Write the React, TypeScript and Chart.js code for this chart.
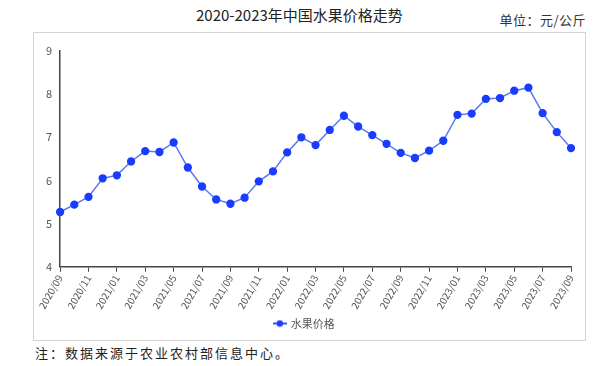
import React, { useEffect, useRef } from "react";
import { Chart, registerables } from "chart.js";

Chart.register(...registerables);

const months: string[] = [
  "2020/09", "2020/10", "2020/11", "2020/12",
  "2021/01", "2021/02", "2021/03", "2021/04", "2021/05", "2021/06", "2021/07", "2021/08", "2021/09", "2021/10", "2021/11", "2021/12",
  "2022/01", "2022/02", "2022/03", "2022/04", "2022/05", "2022/06", "2022/07", "2022/08", "2022/09", "2022/10", "2022/11", "2022/12",
  "2023/01", "2023/02", "2023/03", "2023/04", "2023/05", "2023/06", "2023/07", "2023/08", "2023/09",
];

const fruitPrice: number[] = [
  5.27, 5.44, 5.62, 6.05, 6.12, 6.44, 6.68, 6.66, 6.88, 6.30, 5.86, 5.56, 5.46,
  5.60, 5.98, 6.21, 6.65, 7.00, 6.82, 7.17, 7.50, 7.25, 7.05, 6.85, 6.64,
  6.52, 6.69, 6.92, 7.52, 7.55, 7.89, 7.91, 8.08, 8.15, 7.56, 7.12, 6.75,
];

const seriesName = "水果价格";
const titleText = "2020-2023年中国水果价格走势";
const unitText = "单位：元/公斤";
const noteText = "注：数据来源于农业农村部信息中心。";

const CJK = '"Noto Sans CJK SC", "Noto Sans", sans-serif';

function makeLegendIcon(): HTMLCanvasElement {
  const c = document.createElement("canvas");
  c.width = 14;
  c.height = 8;
  const ctx = c.getContext("2d")!;
  ctx.strokeStyle = "#3355ff";
  ctx.lineWidth = 2;
  ctx.beginPath();
  ctx.moveTo(0, 4);
  ctx.lineTo(4, 4);
  ctx.moveTo(10, 4);
  ctx.lineTo(14, 4);
  ctx.stroke();
  ctx.fillStyle = "#1a3cff";
  ctx.beginPath();
  ctx.arc(7, 4, 3.2, 0, Math.PI * 2);
  ctx.fill();
  return c;
}

export default function App() {
  const ref = useRef<HTMLCanvasElement | null>(null);

  useEffect(() => {
    if (!ref.current) return;
    const icon = makeLegendIcon();
    const chart = new Chart(ref.current, {
      type: "line",
      data: {
        labels: months,
        datasets: [
          {
            label: seriesName,
            data: fruitPrice,
            borderColor: "#5b78f0",
            backgroundColor: "#1a3cff",
            pointBackgroundColor: "#1a3cff",
            pointBorderColor: "#1a3cff",
            pointRadius: 3.4,
            pointStyle: "circle",
            borderWidth: 1.5,
            tension: 0,
          },
        ],
      },
      options: {
        animation: false,
        responsive: false,
        maintainAspectRatio: false,
        layout: { padding: { left: 4, right: 14, top: 18, bottom: 1 } },
        plugins: {
          legend: {
            position: "bottom",
            labels: {
              usePointStyle: true,
              color: "#555",
              font: { family: CJK, size: 11 },
              padding: 6,
              generateLabels: () => [
                {
                  text: seriesName,
                  pointStyle: icon as any,
                  fillStyle: "#1a3cff",
                  strokeStyle: "#1a3cff",
                  lineWidth: 0,
                  datasetIndex: 0,
                  fontColor: "#555",
                } as any,
              ],
            },
          },
          tooltip: { enabled: false },
        },
        scales: {
          x: {
            offset: false,
            border: { display: true, color: "#444", width: 1.5 },
            grid: { display: true, drawOnChartArea: false, drawTicks: true, tickLength: 5, color: "#444" },
            ticks: {
              autoSkip: false,
              minRotation: 60,
              maxRotation: 60,
              color: "#555",
              font: { family: CJK, size: 10 },
              padding: 1,
              callback: function (this: any, _v: any, i: number) {
                return i % 2 === 0 ? months[i] : null;
              },
            },
          },
          y: {
            min: 4,
            max: 9,
            border: { display: true, color: "#444", width: 1.5 },
            grid: { display: false, drawTicks: false },
            ticks: {
              stepSize: 1,
              color: "#555",
              font: { family: CJK, size: 11 },
              padding: 8,
            },
          },
        },
      },
    });
    return () => chart.destroy();
  }, []);

  return (
    <div style={{ position: "absolute", left: 0, top: 0, width: 614, height: 366, background: "#fff", fontFamily: CJK }}>
      <div style={{ position: "absolute", left: 196, top: 4, fontSize: 15, color: "#222", lineHeight: "22px", whiteSpace: "nowrap" }}>
        {titleText}
      </div>
      <div style={{ position: "absolute", right: 28, top: 9, fontSize: 13, color: "#333", lineHeight: "22px", letterSpacing: 0.5, whiteSpace: "nowrap" }}>
        {unitText}
      </div>
      <div style={{ position: "absolute", left: 33, top: 32, width: 551, height: 307, border: "1px solid #d4d4d4" }}>
        <canvas ref={ref} width={551} height={307} style={{ display: "block" }} />
      </div>
      <div style={{ position: "absolute", left: 35, top: 342, fontSize: 13, color: "#222", lineHeight: "22px", letterSpacing: 2, whiteSpace: "nowrap" }}>
        {noteText}
      </div>
    </div>
  );
}
